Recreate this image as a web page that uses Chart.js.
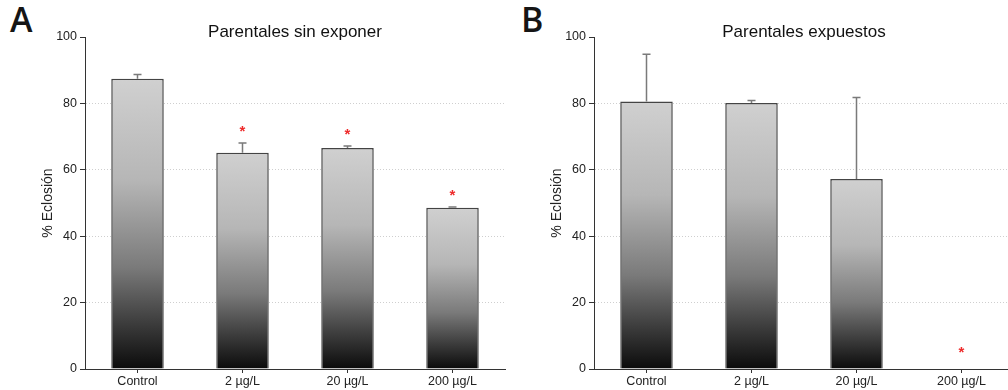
<!DOCTYPE html>
<html>
<head>
<meta charset="utf-8">
<script src="https://cdn.jsdelivr.net/npm/chart.js@4/dist/chart.umd.min.js"></script>
<style>
  html, body { margin: 0; padding: 0; background: #fff; overflow: hidden; }
  body { width: 1008px; height: 390px; position: relative; }
  .panel { position: absolute; top: 0; }
  .letter {
    position: absolute; top: -4px;
    font-family: "Open Sans", "DejaVu Sans", sans-serif;
    font-weight: 600; font-size: 34px; color: #151515;
  }
</style>
</head>
<body>
<div class="letter" style="left:10px">A</div>
<div class="letter" style="left:521px">B</div>
<canvas id="chartA" class="panel" style="left:0px" width="506" height="390"></canvas>
<canvas id="chartB" class="panel" style="left:509px" width="506" height="390"></canvas>
<script>
  const categories = ["Control", "2 µg/L", "20 µg/L", "200 µg/L"];

  // % eclosión, hatching of offspring from non-exposed parents
  const sinExponer = [87.4, 65.1, 66.6, 48.6];
  const sinExponerErr = [1.3, 3.0, 0.6, 0.2];
  const sinExponerSig = [false, true, true, true];

  // offspring from exposed parents
  const expuestos = [80.6, 80.1, 57.2, 0];
  const expuestosErr = [14.2, 0.8, 24.6, 0];
  const expuestosSig = [false, false, false, true];

  const yTicks = [0, 20, 40, 60, 80, 100];

  const FONT = "'Liberation Sans', Arial, sans-serif";

  function barGradient(ctx) {
    const chart = ctx.chart;
    if (!chart.chartArea) return "#bbbbbb";
    const y = chart.scales.y;
    const top = y.getPixelForValue(ctx.raw);
    const bottom = y.getPixelForValue(0);
    if (bottom - top < 1) return "#bbbbbb";
    const g = chart.ctx.createLinearGradient(0, top, 0, bottom);
    g.addColorStop(0, "#d0d0d0");
    g.addColorStop(0.35, "#b6b6b6");
    g.addColorStop(0.65, "#7a7a7a");
    g.addColorStop(0.85, "#3a3a3a");
    g.addColorStop(1, "#0b0b0b");
    return g;
  }

  // title above each panel, centred on the plot area
  const panelTitle = {
    id: "panelTitle",
    afterDraw(chart, args, opts) {
      const { ctx, chartArea } = chart;
      ctx.save();
      ctx.font = "17px " + FONT;
      ctx.fillStyle = "#111";
      ctx.textAlign = "center";
      ctx.textBaseline = "alphabetic";
      ctx.fillText(opts.text, (chartArea.left + chartArea.right) / 2, 37);
      ctx.restore();
    }
  };

  // upper error whiskers plus red significance asterisks
  const errorBars = {
    id: "errorBars",
    afterDatasetsDraw(chart, args, opts) {
      const { ctx } = chart;
      const y = chart.scales.y;
      const meta = chart.getDatasetMeta(0);
      const values = chart.data.datasets[0].data;
      ctx.save();
      meta.data.forEach((bar, i) => {
        const v = values[i];
        const err = opts.errors[i];
        const yVal = y.getPixelForValue(v);
        const yErr = y.getPixelForValue(v + err);
        if (err > 0) {
          ctx.strokeStyle = "#7a7a7a";
          ctx.lineWidth = 1.5;
          ctx.beginPath();
          ctx.moveTo(bar.x, yVal);
          ctx.lineTo(bar.x, yErr);
          ctx.moveTo(bar.x - 4, yErr);
          ctx.lineTo(bar.x + 4, yErr);
          ctx.stroke();
        }
        if (opts.marks[i]) {
          ctx.fillStyle = "#ee2b2b";
          ctx.font = "bold 15px " + FONT;
          ctx.textAlign = "center";
          ctx.textBaseline = "middle";
          const gap = v > 0 ? 11 : 16;
          ctx.fillText("*", bar.x, yErr - gap);
        }
      });
      ctx.restore();
    }
  };

  function makeChart(id, title, values, errors, marks) {
    return new Chart(document.getElementById(id), {
      type: "bar",
      data: {
        labels: categories,
        datasets: [{
          data: values,
          backgroundColor: barGradient,
          borderColor: "#444",
          borderWidth: 1.5,
          barPercentage: 0.5,
          categoryPercentage: 1
        }]
      },
      options: {
        responsive: false,
        devicePixelRatio: 1,
        animation: false,
        layout: { padding: { top: 37, left: 0, right: 1, bottom: 0 } },
        plugins: {
          legend: { display: false },
          tooltip: { enabled: false },
          title: { display: false },
          panelTitle: { text: title },
          errorBars: { errors, marks }
        },
        scales: {
          x: {
            grid: {
              display: true,
              drawOnChartArea: false,
              drawTicks: true,
              tickLength: 4,
              offset: false,
              color: "#333"
            },
            border: { color: "#333", width: 1 },
            ticks: { color: "#222", font: { family: FONT, size: 12.5 }, padding: 1, maxRotation: 0 },
            afterFit(scale) { scale.height = 21; }
          },
          y: {
            min: 0,
            max: 100,
            afterBuildTicks(scale) { scale.ticks = yTicks.map(v => ({ value: v })); },
            grid: {
              color: (c) => (c.tick && (c.tick.value === 0 || c.tick.value === 100)) ? "rgba(0,0,0,0)" : "#cfcfcf",
              tickColor: "#333",
              tickLength: 5,
              lineWidth: 1
            },
            border: { color: "#333", width: 1, dash: [1, 2] },
            ticks: { color: "#222", font: { family: FONT, size: 12.5 }, padding: 3 },
            title: {
              display: true,
              text: "% Eclosión",
              color: "#222",
              font: { family: FONT, size: 14 },
              padding: { top: 40, bottom: 0 }
            },
            afterFit(scale) { scale.width = 85; }
          }
        }
      },
      plugins: [panelTitle, errorBars]
    });
  }

  makeChart("chartA", "Parentales sin exponer", sinExponer, sinExponerErr, sinExponerSig);
  makeChart("chartB", "Parentales expuestos", expuestos, expuestosErr, expuestosSig);
</script>
</body>
</html>
